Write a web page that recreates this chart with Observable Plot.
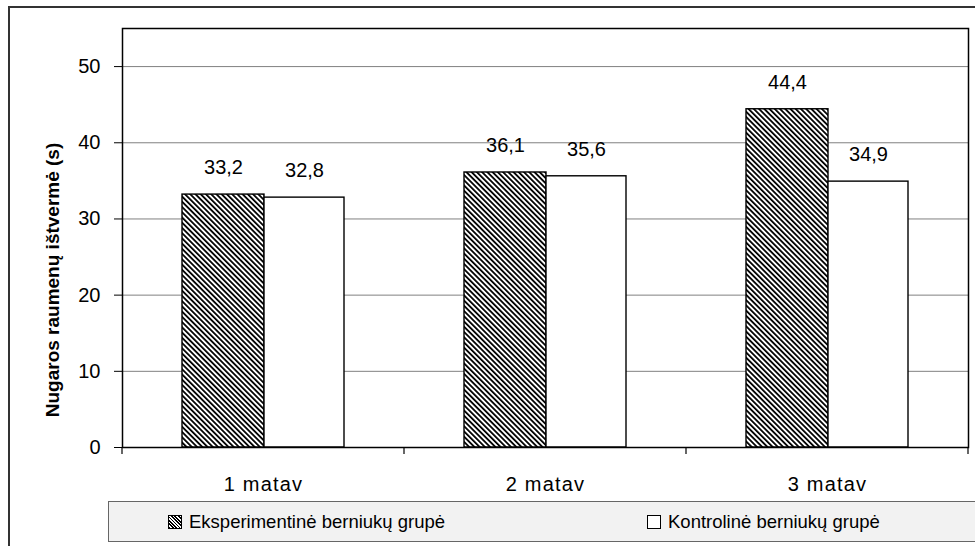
<!DOCTYPE html>
<html>
<head>
<meta charset="utf-8">
<script src="https://cdn.jsdelivr.net/npm/d3@7"></script>
<script src="https://cdn.jsdelivr.net/npm/@observablehq/plot@0.6"></script>
<style>
  body { margin: 0; background: #fff; font-family: "Liberation Sans", Arial, sans-serif; }
  #wrap { position: relative; width: 975px; height: 546px; overflow: hidden; }
  #wrap svg { display: block; }
  #outline { position: absolute; left: 8px; top: 6px; width: 1200px; height: 800px;
             border-left: 2px solid #333; border-top: 2px solid #333; pointer-events: none; }
  #legend { position: absolute; left: 108px; top: 501px; width: 1000px; height: 41px;
            background: #f2f2f2; border: 1.5px solid #666; box-sizing: border-box; }
  #legend .item { position: absolute; top: 0; height: 100%; display: flex; align-items: center;
                  font-size: 18.5px; color: #000; white-space: nowrap; }
  #legend .swatch { width: 12px; height: 12px; border: 1px solid #000; margin-right: 7px; }
  [aria-label="x-axis tick label"] text { letter-spacing: 1.2px; }
</style>
</head>
<body>
<div id="wrap">
  <div id="chart"></div>
  <div id="legend"></div>
  <div id="outline"></div>
</div>
<script>
// Back muscle endurance (s) across three measurements
const categories = ["1 matav", "2 matav", "3 matav"];
const groups = ["Eksperimentinė berniukų grupė", "Kontrolinė berniukų grupė"];
const experimental = [33.2, 36.1, 44.4];
const control = [32.8, 35.6, 34.9];
const yTicks = [0, 10, 20, 30, 40, 50];
const yTitle = "Nugaros raumenų ištvermė (s)";

const rows = categories.flatMap((c, i) => [
  {category: c, group: groups[0], value: experimental[i]},
  {category: c, group: groups[1], value: control[i]}
]);
const expRows = rows.filter(d => d.group === groups[0]);
const ctrlRows = rows.filter(d => d.group === groups[1]);
const fmt = v => v.toFixed(1).replace(".", ",");
const font = "Liberation Sans, Arial, sans-serif";

const chart = Plot.plot({
  width: 975,
  height: 490,
  marginLeft: 122,
  marginRight: 7,
  marginTop: 28,
  marginBottom: 43,
  style: {fontFamily: font, fontSize: "20px", color: "#000", background: "transparent", overflow: "visible"},
  x: {domain: categories, padding: 0, label: null, tickSize: 0, tickPadding: 29},
  y: {domain: [0, 55], ticks: yTicks, tickSize: 8, tickPadding: 14, label: null},
  marks: [
    Plot.ruleY(yTicks.filter(t => t > 0), {stroke: "#808080", strokeWidth: 1}),
    Plot.barY(expRows, {x: "category", y: "value", fill: "url(#hatch)", stroke: "#000", strokeWidth: 1.4,
                        insetLeft: 60, insetRight: 140}),
    Plot.barY(ctrlRows, {x: "category", y: "value", fill: "#fff", stroke: "#000", strokeWidth: 1.4,
                         insetLeft: 142, insetRight: 60}),
    Plot.text(expRows, {x: "category", y: "value", text: d => fmt(d.value), dx: -40, dy: -27,
                        fontSize: 20, fill: "#000"}),
    Plot.text(ctrlRows, {x: "category", y: "value", text: d => fmt(d.value), dx: 41, dy: -27,
                         fontSize: 20, fill: "#000"}),
    Plot.frame({stroke: "#000", strokeWidth: 1.5}),
    Plot.text([yTitle], {frameAnchor: "left", text: d => d, rotate: -90, textAnchor: "middle",
                         dx: -70, dy: 42, fontSize: 19, fontWeight: "bold", fill: "#000"})
  ]
});

// Diagonal hatch used for the experimental group's bars
const svg = d3.select(chart);
const pat = svg.insert("defs", ":first-child").append("pattern")
  .attr("id", "hatch")
  .attr("patternUnits", "userSpaceOnUse")
  .attr("width", 3.7).attr("height", 3.7)
  .attr("patternTransform", "rotate(-45)");
pat.append("rect").attr("width", 3.7).attr("height", 3.7).attr("fill", "#fff");
pat.append("rect").attr("width", 1.8).attr("height", 3.7).attr("fill", "#000");

// Category separator ticks below the baseline, at the band edges
const xs = chart.scale("x");
const y0 = chart.scale("y").apply(0);
const edges = [...categories.map(c => xs.apply(c)), xs.apply(categories[categories.length - 1]) + xs.bandwidth];
svg.append("g").selectAll("line").data(edges).join("line")
  .attr("x1", d => d).attr("x2", d => d)
  .attr("y1", y0).attr("y2", y0 + 7)
  .attr("stroke", "#000").attr("stroke-width", 1.2);

document.getElementById("chart").appendChild(chart);

// Legend
const legend = d3.select("#legend");
const swatchStyles = [
  "repeating-linear-gradient(45deg, #000 0 1.2px, #fff 1.2px 2.4px)",
  "#fff"
];
const itemLeft = [59, 538];
groups.forEach((g, i) => {
  const item = legend.append("div").attr("class", "item").style("left", itemLeft[i] + "px");
  item.append("div").attr("class", "swatch").style("background", swatchStyles[i]);
  item.append("span").text(g);
});
</script>
</body>
</html>
